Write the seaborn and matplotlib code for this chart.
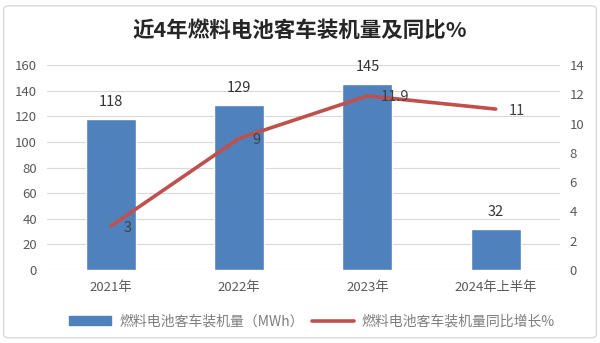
import matplotlib
matplotlib.use("Agg")
import matplotlib.pyplot as plt
from matplotlib.patches import FancyBboxPatch, Patch
from matplotlib.lines import Line2D
import seaborn as sns
import pandas as pd
import numpy as np

categories = ["2021年", "2022年", "2023年", "2024年上半年"]
volume_mwh = [118, 129, 145, 32]
growth_pct = [3, 9, 11.9, 11]
growth_labels = ["3", "9", "11.9", "11"]

bar_name = "燃料电池客车装机量（MWh）"
line_name = "燃料电池客车装机量同比增长%"
title = "近4年燃料电池客车装机量及同比%"

sns.set_theme(style="white")
plt.rcParams["font.family"] = ["Noto Sans CJK SC", "DejaVu Sans"]
plt.rcParams["axes.unicode_minus"] = False

BLUE = "#4F81BD"
RED = "#C0504D"
TICK = "#595959"

fig = plt.figure(figsize=(6.0, 3.43), dpi=100)
fig.patch.set_facecolor("white")
fig.patches.append(FancyBboxPatch((0.006, 0.015), 0.988, 0.968,
                                  boxstyle="round,pad=0,rounding_size=0.01",
                                  transform=fig.transFigure, fill=False,
                                  edgecolor="#D9D9D9", linewidth=1.0))

ax = fig.add_axes([0.078, 0.213, 0.855, 0.597])
df = pd.DataFrame({"cat": categories, "vol": volume_mwh})
sns.barplot(data=df, x="cat", y="vol", color=BLUE, saturation=1,
            width=0.39, ax=ax)
ax.set_ylim(0, 160)
ax.set_yticks(np.arange(0, 161, 20))
ax.set_xlim(-0.5, len(categories) - 0.5)
ax.set_xlabel("")
ax.set_ylabel("")
ax.grid(axis="y", color="#D9D9D9", linewidth=0.8)
ax.set_axisbelow(True)
for s in ax.spines.values():
    s.set_visible(False)
ax.tick_params(axis="y", labelsize=9.5, colors=TICK, length=0, pad=7)
ax.tick_params(axis="x", labelsize=9.5, colors=TICK, length=0, pad=8)

for i, v in enumerate(volume_mwh):
    ax.text(i, v + 8, str(v), ha="center", va="bottom", fontsize=10.5,
            color="#333333")

ax2 = ax.twinx()
sns.lineplot(x=np.arange(len(categories)), y=growth_pct, color=RED,
             linewidth=2.6, ax=ax2)
ax2.set_ylim(0, 14)
ax2.set_yticks(np.arange(0, 15, 2))
ax2.set_xlim(-0.5, len(categories) - 0.5)
for s in ax2.spines.values():
    s.set_visible(False)
ax2.tick_params(axis="y", labelsize=9.5, colors=TICK, length=0, pad=7)
ax2.grid(False)

for i, (v, lab) in enumerate(zip(growth_pct, growth_labels)):
    ax2.text(i + 0.1, v - 0.1, lab, ha="left", va="center", fontsize=10.5,
             color="#404040")

fig.text(0.5, 0.912, title, ha="center", va="center", fontsize=15.5,
         fontweight="bold", color="#262626")

handles = [Patch(facecolor=BLUE, edgecolor=BLUE),
           Line2D([0], [0], color=RED, linewidth=2.6)]
fig.legend(handles, [bar_name, line_name], loc="center",
           bbox_to_anchor=(0.52, 0.062), ncol=2, frameon=False, fontsize=10,
           labelcolor="#7F7F7F", handlelength=3.0, handleheight=0.6,
           columnspacing=0.6, handletextpad=0.6)

fig.savefig("out.png", dpi=100, facecolor="white")
